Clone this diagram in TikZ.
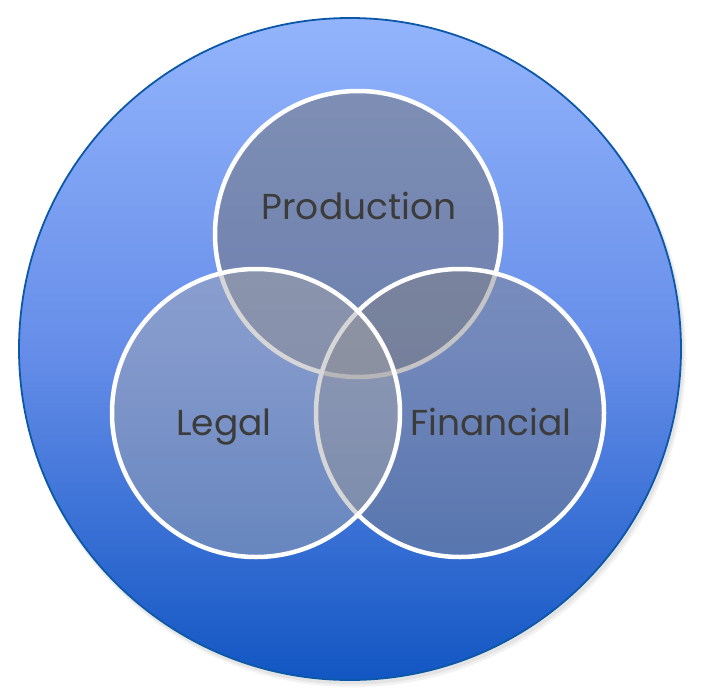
\documentclass[tikz,border=0pt]{standalone}
\usepackage{fontspec}
\setmainfont{Poppins}
\definecolor{bgtop}{RGB}{147,180,252}
\definecolor{bgmid}{RGB}{102,142,233}
\definecolor{bgbot}{RGB}{18,86,195}
\definecolor{rimblue}{RGB}{12,88,168}
\definecolor{pfill}{RGB}{117,117,122}
\definecolor{ffill}{RGB}{130,130,136}
\definecolor{lfill}{RGB}{167,167,170}
\definecolor{labelgray}{RGB}{60,60,60}
\tikzset{
  venn/.style={circle, inner sep=0pt, draw=white, line width=4.5pt},
  vennlabel/.style={anchor=base, inner sep=0pt, text=labelgray,
    font=\fontsize{36}{40}\selectfont},
}
\begin{document}
\begin{tikzpicture}[x=1pt,y=-1pt]
\useasboundingbox (0,0) rectangle (707,699);
% soft shadow
\fill[black, opacity=0.05] (353,354) circle (333);
\fill[black, opacity=0.06] (352,352.5) circle (332);
% outer circle
\node[circle, inner sep=0pt, minimum size=662pt, draw=rimblue, line width=1.8pt,
  top color=bgtop, bottom color=bgbot, middle color=bgmid] (outer) at (350,349) {};
% venn circles: Production, Financial, Legal (drawn in this order)
\node[venn, minimum size=286pt, fill=pfill, fill opacity=0.53] (prod) at (358,234) {};
\node[venn, minimum size=288pt, fill=ffill, fill opacity=0.47] (fin) at (460,413) {};
\node[venn, minimum size=288pt, fill=lfill, fill opacity=0.46] (leg) at (256,413) {};
% labels
\node[vennlabel] (tprod) at (359,219) {Production};
\node[vennlabel] (tleg) at (224,435) {Legal};
\node[vennlabel] (tfin) at (491,435) {Financial};
\end{tikzpicture}
\end{document}
